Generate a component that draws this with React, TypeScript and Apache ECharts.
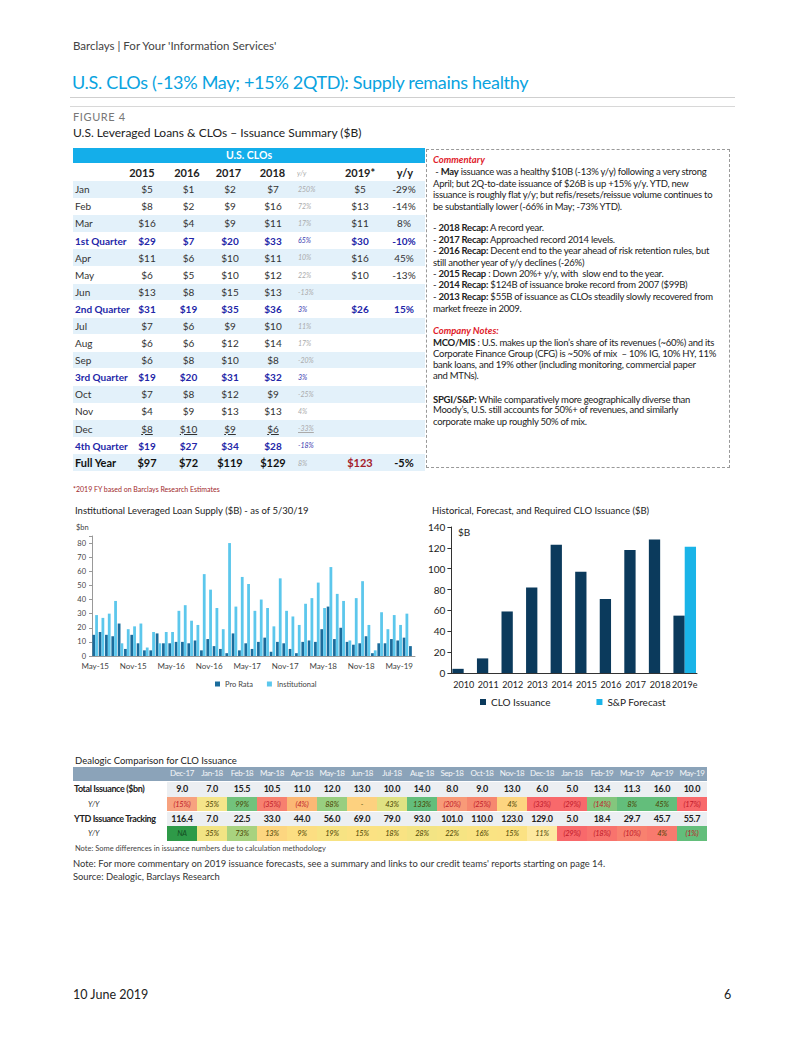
import React, { useEffect, useRef } from 'react';
import * as echarts from 'echarts';

const FONT = "Lato, 'Open Sans', sans-serif";

// ---------- Issuance summary table ----------
const rowLabels = ['Jan', 'Feb', 'Mar', '1st Quarter', 'Apr', 'May', 'Jun', '2nd Quarter', 'Jul', 'Aug', 'Sep', '3rd Quarter', 'Oct', 'Nov', 'Dec', '4th Quarter', 'Full Year'];
const v2015 = [5, 8, 16, 29, 11, 6, 13, 31, 7, 6, 6, 19, 7, 4, 8, 19, 97];
const v2016 = [1, 2, 4, 7, 6, 5, 8, 19, 6, 6, 8, 20, 8, 9, 10, 27, 72];
const v2017 = [2, 9, 9, 20, 10, 10, 15, 35, 9, 12, 10, 31, 12, 13, 9, 34, 119];
const v2018 = [7, 16, 11, 33, 11, 12, 13, 36, 10, 14, 8, 32, 9, 13, 6, 28, 129];
const yy2018 = ['250%', '72%', '17%', '65%', '10%', '22%', '-13%', '3%', '11%', '17%', '-20%', '3%', '-25%', '4%', '-33%', '-18%', '8%'];
const v2019 = [5, 13, 11, 30, 16, 10, null, 26, null, null, null, null, null, null, null, null, 123];
const yy2019 = ['-29%', '-14%', '8%', '-10%', '45%', '-13%', '', '15%', '', '', '', '', '', '', '', '', '-5%'];

// ---------- Institutional leveraged loan supply ----------
const loanMonths = ['May-15', 'Jun-15', 'Jul-15', 'Aug-15', 'Sep-15', 'Oct-15', 'Nov-15', 'Dec-15', 'Jan-16', 'Feb-16', 'Mar-16', 'Apr-16', 'May-16', 'Jun-16', 'Jul-16', 'Aug-16', 'Sep-16', 'Oct-16', 'Nov-16', 'Dec-16', 'Jan-17', 'Feb-17', 'Mar-17', 'Apr-17', 'May-17', 'Jun-17', 'Jul-17', 'Aug-17', 'Sep-17', 'Oct-17', 'Nov-17', 'Dec-17', 'Jan-18', 'Feb-18', 'Mar-18', 'Apr-18', 'May-18', 'Jun-18', 'Jul-18', 'Aug-18', 'Sep-18', 'Oct-18', 'Nov-18', 'Dec-18', 'Jan-19', 'Feb-19', 'Mar-19', 'Apr-19', 'May-19', 'Jun-19', 'Jul-19'];
const proRata = [15, 17, 15, 14, 23, 5, 15, 9, 4, 4, 16, 9, 9, 10, 10, 9, 11, 4, 12, 7, 5, 2, 16, 4, 9, 5, 10, 13, 3, 10, 9, 5, 2, 10, 11, 10, 19, 35, 12, 20, 10, 8, 9, 14, 2, 9, 9, 12, 11, 13, 7];
const institutional = [29, 27, 30, 39, 9, 19, 21, 23, 6, 17, 9, 17, 17, 32, 36, 25, 22, 58, 47, 34, 19, 80, 35, 56, 51, 32, 40, 34, 21, 55, 32, 28, 22, 37, 41, 52, 34, 63, 44, 39, 11, 41, 53, 22, 4, 31, 19, 29, 22, 30, 0];

// ---------- Historical CLO issuance ----------
const years = ['2010', '2011', '2012', '2013', '2014', '2015', '2016', '2017', '2018', '2019e'];
const cloIssuance = [4, 14, 59, 82, 123, 97, 71, 118, 128, 55];
const spForecast = [null, null, null, null, null, null, null, null, null, 121];

// ---------- Dealogic comparison ----------
const dealogicMonths = ['Dec-17', 'Jan-18', 'Feb-18', 'Mar-18', 'Apr-18', 'May-18', 'Jun-18', 'Jul-18', 'Aug-18', 'Sep-18', 'Oct-18', 'Nov-18', 'Dec-18', 'Jan-18', 'Feb-19', 'Mar-19', 'Apr-19', 'May-19'];
const totalIssuance = ['9.0', '7.0', '15.5', '10.5', '11.0', '12.0', '13.0', '10.0', '14.0', '8.0', '9.0', '13.0', '6.0', '5.0', '13.4', '11.3', '16.0', '10.0'];
const totalYY = ['(15%)', '35%', '99%', '(35%)', '(4%)', '88%', '-', '43%', '133%', '(20%)', '(25%)', '4%', '(33%)', '(29%)', '(14%)', '8%', '45%', '(17%)'];
const ytdTracking = ['116.4', '7.0', '22.5', '33.0', '44.0', '56.0', '69.0', '79.0', '93.0', '101.0', '110.0', '123.0', '129.0', '5.0', '18.4', '29.7', '45.7', '55.7'];
const ytdYY = ['NA', '35%', '73%', '13%', '9%', '19%', '15%', '18%', '28%', '22%', '16%', '15%', '11%', '(29%)', '(18%)', '(10%)', '4%', '(1%)'];
// cell fill styles (conditional formatting as shown)
const totalYYFill = ['#f7a27f', '#f5e58a', '#72c27c', '#f7806f', '#fbb875', '#98ce80', '#fdd17f', '#dfe283', '#63be7b', '#f89a78', '#f6876f', '#fdd580', '#f8696b', '#f8696b', '#84c67d', '#63be7b', '#63be7b', '#f8696b'];
const ytdYYFill = ['#2e9a48', '#f2e484', '#a8d27f', '#fdd680', '#fcde82', '#f7e383', '#fbe283', '#f9e383', '#f3e484', '#f6e483', '#fae383', '#fbe283', '#fde9a0', '#f8696b', '#f8736d', '#f8816f', '#f87a6e', '#63be7b'];

function Chart({ option, style }: { option: any; style: React.CSSProperties }) {
  const ref = useRef<HTMLDivElement>(null);
  useEffect(() => {
    const c = echarts.init(ref.current!, null, { renderer: 'svg' });
    c.setOption(option);
    return () => c.dispose();
  }, []);
  return <div ref={ref} style={style} />;
}

const T = ({ x, cy, size, children, style }: { x: number; cy: number; size: number; children: any; style?: React.CSSProperties }) => (
  <div style={{ position: 'absolute', left: x, top: cy - size * 0.6, fontSize: size, lineHeight: `${size * 1.2}px`, whiteSpace: 'nowrap', ...style }}>{children}</div>
);
const C = ({ cx, cy, size, w = 50, children, style }: { cx: number; cy: number; size: number; w?: number; children: any; style?: React.CSSProperties }) => (
  <div style={{ position: 'absolute', left: cx - w / 2, width: w, textAlign: 'center', top: cy - size * 0.6, fontSize: size, lineHeight: `${size * 1.2}px`, whiteSpace: 'nowrap', ...style }}>{children}</div>
);

const loanOption = {
  animation: false,
  textStyle: { fontFamily: FONT },
  grid: { left: 32, right: 10, top: 36, height: 120 },
  xAxis: {
    type: 'category', data: loanMonths,
    axisLine: { lineStyle: { color: '#999' } },
    axisTick: { interval: 5, alignWithLabel: true, length: 3, lineStyle: { color: '#999' } },
    axisLabel: { interval: 5, fontSize: 8, color: '#444', margin: 6 },
  },
  yAxis: {
    type: 'value', min: 0, max: 85, interval: 10,
    axisLine: { show: true, lineStyle: { color: '#999' } },
    axisTick: { show: true, length: 3, lineStyle: { color: '#999' } },
    splitLine: { show: false },
    axisLabel: { fontSize: 7.5, color: '#444', margin: 6, formatter: (v: number) => (v % 10 === 0 ? String(v) : '') },
  },
  legend: { top: 175, left: 150, itemWidth: 5, itemHeight: 5, icon: 'rect', itemGap: 14, textStyle: { fontSize: 7.5, color: '#444' } },
  series: [
    { name: 'Pro Rata', type: 'bar', data: proRata, itemStyle: { color: '#1b6c9c' }, barGap: '0%', barCategoryGap: '12%' },
    { name: 'Institutional', type: 'bar', data: institutional, itemStyle: { color: '#5cc7ec' } },
  ],
  graphic: [{ type: 'text', left: 16, top: 23, style: { text: '$bn', fontSize: 7.5, fill: '#444', fontFamily: FONT } }],
};

const cloOption = {
  animation: false,
  textStyle: { fontFamily: FONT },
  grid: { left: 25, right: 12, top: 12, height: 146 },
  xAxis: {
    type: 'category', data: years,
    axisLine: { lineStyle: { color: '#333' } },
    axisTick: { length: 4, lineStyle: { color: '#333' } },
    axisLabel: { interval: 0, fontSize: 9, color: '#222', margin: 7 },
  },
  yAxis: {
    type: 'value', min: 0, max: 140, interval: 20,
    axisLine: { show: true, lineStyle: { color: '#333' } },
    axisTick: { show: true, length: 4, lineStyle: { color: '#333' } },
    splitLine: { show: false },
    axisLabel: { fontSize: 10, color: '#222', margin: 6 },
  },
  legend: { top: 177, left: 50, itemWidth: 6, itemHeight: 6, icon: 'rect', itemGap: 46, textStyle: { fontSize: 10, color: '#222' } },
  series: [
    { name: 'CLO Issuance', type: 'bar', data: cloIssuance, itemStyle: { color: '#0b3a5c' }, barGap: '0%', barCategoryGap: '8%' },
    { name: 'S&P Forecast', type: 'bar', data: spForecast, itemStyle: { color: '#1ab4e8' } },
  ],
  graphic: [{ type: 'text', left: 33, top: 12, style: { text: '$B', fontSize: 10, fill: '#222', fontFamily: FONT } }],
};

const valCols = [147, 188.5, 230, 273];
const yearCols = [v2015, v2016, v2017, v2018];
const rowCY = (i: number) => 189.3 + i * 17.09;

function SummaryTable() {
  const els: any[] = [];
  els.push(<div key="bar" style={{ position: 'absolute', left: 73, top: 148, width: 352, height: 15, background: '#14aeea' }} />);
  els.push(<C key="bt" cx={249} cy={155.5} size={10.5} w={100} style={{ color: '#fff', fontWeight: 700 }}>U.S. CLOs</C>);
  const hdr = ['2015', '2016', '2017', '2018'];
  const hdrX = [142, 187, 228.5, 272.5];
  hdr.forEach((h, k) => els.push(<C key={'h' + k} cx={hdrX[k]} cy={173} size={11} style={{ fontWeight: 700 }}>{h}</C>));
  els.push(<T key="hyy" x={297} cy={173} size={7} style={{ color: '#aaa', fontStyle: 'italic' }}>y/y</T>);
  els.push(<C key="h19" cx={360} cy={173} size={11} style={{ fontWeight: 700 }}>2019*</C>);
  els.push(<C key="hyy2" cx={405} cy={173} size={11} style={{ fontWeight: 700 }}>y/y</C>);
  rowLabels.forEach((lab, i) => {
    const cy = rowCY(i);
    const isQ = lab.indexOf('Quarter') >= 0;
    const isFY = lab === 'Full Year';
    const isDec = lab === 'Dec';
    if (i % 2 === 0) els.push(<div key={'bg' + i} style={{ position: 'absolute', left: 73, top: cy - 8.3, width: 352, height: 16.6, background: '#e3f1fa' }} />);
    const base: React.CSSProperties = isQ ? { color: '#2326a8', fontWeight: 700 } : isFY ? { color: '#111', fontWeight: 700 } : { color: '#333' };
    const sz = isFY ? 11 : 10;
    els.push(<T key={'l' + i} x={75} cy={cy} size={sz} style={base}>{lab}</T>);
    yearCols.forEach((arr, k) => els.push(
      <C key={'v' + i + '_' + k} cx={valCols[k]} cy={cy} size={sz} style={{ ...base, textDecoration: isDec ? 'underline' : 'none' }}>{'$' + arr[i]}</C>
    ));
    els.push(<T key={'y' + i} x={298} cy={cy} size={7} style={{ color: isQ ? '#3a3ab0' : '#aaa', fontStyle: 'italic', textDecoration: isDec ? 'underline' : 'none' }}>{yy2018[i]}</T>);
    if (v2019[i] !== null) els.push(<C key={'n' + i} cx={360} cy={cy} size={sz} style={{ ...base, color: isFY ? '#a3202a' : base.color }}>{'$' + v2019[i]}</C>);
    if (yy2019[i]) els.push(<C key={'p' + i} cx={404} cy={cy} size={sz} style={base}>{yy2019[i]}</C>);
  });
  return <>{els}</>;
}

const commentaryLines: [number, any][] = [
  [171.7, <> - <b>May</b> issuance was a healthy $10B (-13% y/y) following a very strong</>],
  [183.3, <>April; but 2Q-to-date issuance of $26B is up +15% y/y. YTD, new</>],
  [195, <>issuance is roughly flat y/y; but refis/resets/reissue volume continues to</>],
  [206.7, <>be substantially lower (-66% in May; -73% YTD).</>],
  [227.3, <>- <b>2018 Recap:</b> A record year.</>],
  [239.3, <>- <b>2017 Recap:</b> Approached record 2014 levels.</>],
  [251, <>- <b>2016 Recap:</b> Decent end to the year ahead of risk retention rules, but</>],
  [262.7, <>still another year of y/y declines (-26%)</>],
  [273.7, <>- <b>2015 Recap</b> : Down 20%+ y/y, with  slow end to the year.</>],
  [285, <>- <b>2014 Recap:</b> $124B of issuance broke record from 2007 ($99B)</>],
  [296.7, <>- <b>2013 Recap:</b> $55B of issuance as CLOs steadily slowly recovered from</>],
  [308.3, <>market freeze in 2009.</>],
  [342.3, <><b>MCO/MIS</b> : U.S. makes up the lion’s share of its revenues (~60%) and its</>],
  [353.7, <>Corporate Finance Group (CFG) is ~50% of mix  – 10% IG, 10% HY, 11%</>],
  [365, <>bank loans, and 19% other (including monitoring, commercial paper</>],
  [376, <>and MTNs).</>],
  [399.3, <><b>SPGI/S&amp;P:</b> While comparatively more geographically diverse than</>],
  [410, <>Moody’s, U.S. still accounts for 50%+ of revenues, and similarly</>],
  [421.7, <>corporate make up roughly 50% of mix.</>],
];

const colX = (j: number) => 182 + j * 30;
const dRowCY = [773.5, 789, 804, 819, 833.5];

function DealogicTable() {
  const els: any[] = [];
  els.push(<div key="hb" style={{ position: 'absolute', left: 73, top: 767, width: 634, height: 13.5, background: '#8ba3b9' }} />);
  els.push(<div key="r1" style={{ position: 'absolute', left: 167, top: 782, width: 540, height: 14.5, background: '#eceff2' }} />);
  els.push(<div key="r3" style={{ position: 'absolute', left: 167, top: 812, width: 540, height: 14.5, background: '#eceff2' }} />);
  dealogicMonths.forEach((m, j) => els.push(<C key={'m' + j} cx={colX(j)} cy={dRowCY[0]} size={8} w={30} style={{ color: '#f4f6f8', letterSpacing: -0.4 }}>{m}</C>));
  const lab: React.CSSProperties = { fontWeight: 700, letterSpacing: -0.4 };
  els.push(<T key="l1" x={74} cy={dRowCY[1]} size={9} style={lab}>Total Issuance ($bn)</T>);
  els.push(<T key="l2" x={88} cy={dRowCY[2]} size={7.5} style={{ fontStyle: 'italic', color: '#333' }}>Y/Y</T>);
  els.push(<T key="l3" x={74} cy={dRowCY[3]} size={9} style={lab}>YTD Issuance Tracking</T>);
  els.push(<T key="l4" x={88} cy={dRowCY[4]} size={7.5} style={{ fontStyle: 'italic', color: '#333' }}>Y/Y</T>);
  const yyCell = (txt: string, fill: string, cy: number, j: number, key: string) => {
    const neg = txt.startsWith('(');
    els.push(<div key={key + 'f'} style={{ position: 'absolute', left: colX(j) - 15, top: cy - 7.2, width: 30, height: 14.4, background: fill }} />);
    els.push(<C key={key} cx={colX(j)} cy={cy} size={7.5} w={30} style={{ fontStyle: 'italic', letterSpacing: -0.2, color: neg ? '#c0182a' : txt === 'NA' ? '#134d22' : '#4a4200' }}>{txt}</C>);
  };
  const num: React.CSSProperties = { fontWeight: 700, letterSpacing: -0.3 };
  dealogicMonths.forEach((_, j) => {
    els.push(<C key={'t' + j} cx={colX(j)} cy={dRowCY[1]} size={9} w={30} style={num}>{totalIssuance[j]}</C>);
    yyCell(totalYY[j], totalYYFill[j], dRowCY[2], j, 'ty' + j);
    els.push(<C key={'y' + j} cx={colX(j)} cy={dRowCY[3]} size={9} w={30} style={num}>{ytdTracking[j]}</C>);
    yyCell(ytdYY[j], ytdYYFill[j], dRowCY[4], j, 'yy' + j);
  });
  return <>{els}</>;
}

export default function App() {
  return (
    <div style={{ position: 'absolute', left: 0, top: 0, width: 802, height: 1037, background: '#fff', fontFamily: FONT, color: '#222', overflow: 'hidden' }}>
      <T x={73} cy={46} size={11.5} style={{ color: '#444' }}>Barclays | For Your 'Information Services'</T>
      <T x={72} cy={83} size={18} style={{ color: '#0aa3df', letterSpacing: -0.3 }}>U.S. CLOs (-13% May; +15% 2QTD): Supply remains healthy</T>
      <div style={{ position: 'absolute', left: 70, top: 97, width: 665, height: 1, background: '#cfcfcf' }} />
      <div style={{ position: 'absolute', left: 70, top: 106, width: 665, height: 1, background: '#d8d8d8' }} />
      <T x={73} cy={117} size={11} style={{ color: '#777', letterSpacing: 0.6 }}>FIGURE 4</T>
      <T x={73} cy={133} size={12} style={{ color: '#222' }}>U.S. Leveraged Loans &amp; CLOs – Issuance Summary ($B)</T>

      <SummaryTable />
      <T x={73} cy={489} size={7} style={{ color: '#a0282a' }}>*2019 FY based on Barclays Research Estimates</T>

      <div style={{ position: 'absolute', left: 426, top: 149, width: 302, height: 317, border: '1px dashed #999' }} />
      <T x={433} cy={160} size={9.5} style={{ color: '#e0202a', fontStyle: 'italic', fontWeight: 700 }}>Commentary</T>
      <T x={433} cy={330.7} size={9.5} style={{ color: '#e0202a', fontStyle: 'italic', fontWeight: 700 }}>Company Notes:</T>
      {commentaryLines.map(([cy, node], i) => (
        <T key={'c' + i} x={433} cy={cy} size={9.5} style={{ color: '#222', whiteSpace: 'pre', letterSpacing: -0.25 }}>{node}</T>
      ))}

      <T x={75} cy={511} size={9.5} style={{ color: '#222' }}>Institutional Leveraged Loan Supply ($B) - as of 5/30/19</T>
      <T x={432} cy={511} size={9.5} style={{ color: '#222' }}>Historical, Forecast, and Required CLO Issuance ($B)</T>
      <Chart option={loanOption} style={{ position: 'absolute', left: 60, top: 500, width: 365, height: 200 }} />
      <Chart option={cloOption} style={{ position: 'absolute', left: 425, top: 515, width: 284, height: 195 }} />

      <T x={75} cy={761} size={9.5} style={{ color: '#222' }}>Dealogic Comparison for CLO Issuance</T>
      <DealogicTable />
      <T x={75} cy={848} size={7.5} style={{ color: '#444' }}>Note: Some differences in issuance numbers due to calculation methodology</T>

      <T x={73} cy={864} size={9.4} style={{ color: '#333' }}>Note: For more commentary on 2019 issuance forecasts, see a summary and links to our credit teams' reports starting on page 14.</T>
      <T x={73} cy={877} size={9.4} style={{ color: '#333' }}>Source: Dealogic, Barclays Research</T>

      <T x={73} cy={994} size={12.5} style={{ color: '#222' }}>10 June 2019</T>
      <T x={724} cy={994} size={12.5} style={{ color: '#222' }}>6</T>
    </div>
  );
}
